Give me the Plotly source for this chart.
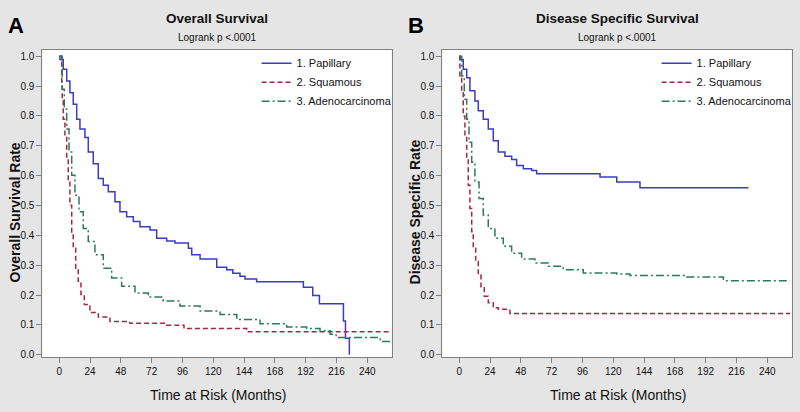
import plotly.graph_objects as go

# ---- Data ----
os_pap_t = [0, 0.5, 3.1, 5.8, 8.3, 10.9, 13.6, 16.1, 20, 22.6, 26.5, 30.4, 34.3, 38.2, 43.4, 47.3, 52.5, 57.7,
            62.9, 70.7, 75.9, 83.7, 90.2, 100.6, 103.2, 109.7, 122.7, 130.5, 135.2, 140.8, 144.7, 153.8, 190.2,
            197.5, 202.7, 221.4, 223, 226]
os_pap_s = [1.0, 0.989, 0.956, 0.917, 0.878, 0.839, 0.789, 0.756, 0.728, 0.679, 0.64, 0.59, 0.568, 0.546, 0.512,
            0.479, 0.462, 0.446, 0.429, 0.418, 0.39, 0.381, 0.374, 0.357, 0.335, 0.321, 0.293, 0.285, 0.273,
            0.263, 0.254, 0.244, 0.226, 0.198, 0.171, 0.113, 0.055, 0.0]

os_squ_t = [0, 1.9, 2.3, 3.1, 4.4, 5.8, 7, 8.3, 9.7, 10.9, 12.8, 14.8, 16.9, 19.5, 23.9, 30.4, 39.5, 55, 83.7,
            97.2, 146, 257.7]
os_squ_s = [1.0, 0.911, 0.856, 0.789, 0.734, 0.656, 0.579, 0.501, 0.401, 0.357, 0.29, 0.246, 0.202, 0.168, 0.141,
            0.126, 0.111, 0.105, 0.099, 0.0875, 0.0765, 0.0765]

os_ade_t = [0, 2.3, 3.9, 5.8, 7.6, 9.7, 12.2, 15.4, 18.7, 22.6, 27.8, 34.3, 40.8, 48.6, 59, 69.4, 81, 94, 109.7,
            125.3, 138.3, 156.4, 177.2, 192.8, 203.2, 211, 215.7, 250, 257.7]
os_ade_s = [1.0, 0.889, 0.823, 0.756, 0.679, 0.601, 0.534, 0.479, 0.423, 0.379, 0.335, 0.29, 0.257, 0.229, 0.207,
            0.193, 0.18, 0.163, 0.146, 0.135, 0.118, 0.104, 0.093, 0.0875, 0.08, 0.0685, 0.0575, 0.044, 0.044]

dss_pap_t = [0, 0.5, 3.1, 5.8, 8.3, 12.2, 14.8, 18.7, 22.6, 26.5, 30.4, 35.6, 40.8, 44.7, 49.9, 56.4, 60.3, 109.7,
             122.7, 140.8, 225.3]
dss_pap_s = [1.0, 0.989, 0.956, 0.928, 0.884, 0.85, 0.817, 0.789, 0.756, 0.717, 0.679, 0.665, 0.654, 0.634, 0.623,
             0.617, 0.606, 0.595, 0.579, 0.559, 0.559]

dss_squ_t = [0, 0.5, 1.9, 3.1, 4.4, 5.8, 7, 8.3, 9.7, 10.9, 12.8, 14.8, 16.9, 19.5, 22.6, 26.5, 30.4, 39.5, 257.7]
dss_squ_s = [1.0, 0.934, 0.878, 0.8, 0.734, 0.656, 0.568, 0.49, 0.412, 0.357, 0.313, 0.268, 0.224, 0.196, 0.174,
             0.157, 0.152, 0.138, 0.138]

dss_ade_t = [0, 1.9, 3.9, 5.8, 7.6, 9.7, 12.2, 15.4, 18.7, 22.6, 27.8, 34.3, 40.8, 48.6, 59, 69.4, 81, 96.6, 122.7,
             133, 177.2, 205.8, 257.7]
dss_ade_s = [1.0, 0.934, 0.856, 0.789, 0.712, 0.645, 0.579, 0.523, 0.468, 0.423, 0.39, 0.363, 0.34, 0.321, 0.307,
             0.296, 0.285, 0.274, 0.27, 0.265, 0.26, 0.248, 0.248]

series_names = ["1. Papillary", "2. Squamous", "3. Adenocarcinoma"]
x_ticks = [0, 24, 48, 72, 96, 120, 144, 168, 192, 216, 240]
y_ticks = [0.0, 0.1, 0.2, 0.3, 0.4, 0.5, 0.6, 0.7, 0.8, 0.9, 1.0]

# ---- Styles ----
colors = ["#3b3bc4", "#a3283f", "#2b7a5c"]
dashes = ["solid", "5px,3px", "8px,3px,2px,3px"]
NARROW = "Liberation Sans Narrow, Arial Narrow, Liberation Sans, Arial, sans-serif"
REG = "Liberation Sans, Arial, sans-serif"
BG = "#e5e5e5"

fig = go.Figure()

panels = [
    ("x", "y", "legend", [(os_pap_t, os_pap_s), (os_squ_t, os_squ_s), (os_ade_t, os_ade_s)]),
    ("x2", "y2", "legend2", [(dss_pap_t, dss_pap_s), (dss_squ_t, dss_squ_s), (dss_ade_t, dss_ade_s)]),
]
for xa, ya, lg, data in panels:
    for i, (t, s) in enumerate(data):
        fig.add_trace(go.Scatter(
            x=t, y=s, mode="lines", name=series_names[i], xaxis=xa, yaxis=ya, legend=lg,
            line=dict(color=colors[i], width=1.5, dash=dashes[i], shape="hv"),
            hoverinfo="skip",
        ))

axis_common = dict(
    showgrid=False, zeroline=False, showline=True, linecolor="#808080", linewidth=1, mirror=True,
    ticks="outside", ticklen=5, tickcolor="#808080", tickfont=dict(family=NARROW, size=10, color="#111"),
)
legend_common = dict(xanchor="right", yanchor="top", bgcolor="rgba(0,0,0,0)",
                     font=dict(family=NARROW, size=11, color="#111"), tracegroupgap=0, itemwidth=30)
fig.update_layout(
    xaxis=dict(domain=[0.0529, 0.4896], range=[-13.2, 259], tickvals=x_ticks, anchor="y", **axis_common),
    yaxis=dict(domain=[0.1262, 0.8786], range=[-0.009, 1.022], tickvals=y_ticks, tickformat=".1f",
               anchor="x", **axis_common),
    xaxis2=dict(domain=[0.5529, 0.9896], range=[-13.2, 259], tickvals=x_ticks, anchor="y2", **axis_common),
    yaxis2=dict(domain=[0.1262, 0.8786], range=[-0.009, 1.022], tickvals=y_ticks, tickformat=".1f",
                anchor="x2", **axis_common),
    paper_bgcolor=BG, plot_bgcolor="white",
    width=800, height=412, margin=dict(l=0, r=0, t=0, b=0),
    legend=dict(x=0.497, y=0.881, **legend_common),
    legend2=dict(x=0.997, y=0.881, **legend_common),
)

ann = []
for cx, letter, title, ytitle in [(0.0, "A", "Overall Survival", "Overall Survival Rate"),
                                  (0.5, "B", "Disease Specific Survival", "Disease Specific Rate")]:
    base = dict(xref="paper", yref="paper", xanchor="center", yanchor="middle", showarrow=False)
    ann.append(dict(text=f"<b>{letter}</b>", x=cx + 16 / 800, y=1 - 25.5 / 412,
                    font=dict(family=NARROW, size=22, color="black"), **base))
    ann.append(dict(text=f"<b>{title}</b>", x=cx + 0.2715, y=1 - 18.5 / 412,
                    font=dict(family=NARROW, size=13.5, color="#111"), **base))
    ann.append(dict(text="Logrank p <.0001", x=cx + 0.2715, y=1 - 38 / 412,
                    font=dict(family=NARROW, size=10, color="#111"), **base))
    ann.append(dict(text="Time at Risk (Months)", x=cx + 0.2725, y=1 - 398 / 412,
                    font=dict(family=NARROW, size=14, color="#111"), **base))
    ann.append(dict(text=f"<b>{ytitle}</b>", x=cx + 15 / 800, y=1 - 214 / 412, textangle=-90,
                    font=dict(family=REG, size=14, color="#111"), **base))
fig.update_layout(annotations=ann)

fig.write_html("out.html", config={"displayModeBar": False},
               post_script="document.body.style.margin='0';document.body.style.overflow='hidden';")
